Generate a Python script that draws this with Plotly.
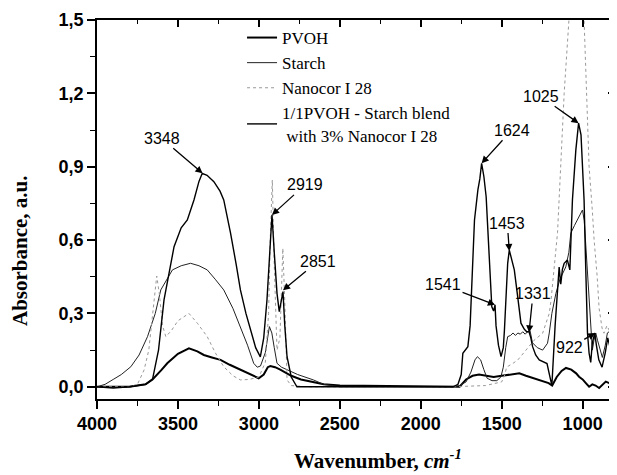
import plotly.graph_objects as go

# ---------------- data ----------------
blend_wn = [4000, 3900, 3800, 3750, 3700, 3657, 3620, 3586, 3550, 3524, 3480, 3442, 3401, 3370, 3350,
            3320, 3278, 3240, 3217, 3195, 3175, 3140, 3114, 3080, 3052, 3020, 2991, 2970, 2950, 2935,
            2919, 2905, 2888, 2874, 2862, 2851, 2840, 2826, 2800, 2765, 2700, 2400, 2000, 1800, 1770,
            1750, 1740, 1709, 1695, 1688, 1668, 1647, 1635, 1624, 1610, 1596, 1575, 1561, 1550, 1541,
            1535, 1520, 1504, 1490, 1483, 1470, 1463, 1453, 1440, 1422, 1401, 1381, 1360, 1345, 1331,
            1320, 1309, 1290, 1268, 1240, 1220, 1205, 1190, 1170, 1155, 1145, 1135, 1125, 1114, 1094,
            1079, 1063, 1042, 1025, 1010, 991, 981, 970, 960, 950, 940, 925, 915, 900, 880, 860, 845,
            830, 815, 800]
blend_ab = [0.0, -0.005, 0.0, 0.005, 0.01, 0.03, 0.15, 0.355, 0.48, 0.573, 0.65, 0.682, 0.764, 0.84, 0.873,
            0.865, 0.839, 0.80, 0.764, 0.70, 0.628, 0.50, 0.396, 0.30, 0.232, 0.16, 0.122, 0.20, 0.355, 0.55,
            0.703, 0.55, 0.382, 0.307, 0.35, 0.389, 0.25, 0.123, 0.04, 0.0, 0.0, 0.0, 0.0, 0.0, 0.01,
            0.05, 0.137, 0.164, 0.25, 0.368, 0.682, 0.805, 0.85, 0.914, 0.86, 0.777, 0.519, 0.327, 0.31, 0.335,
            0.25, 0.17, 0.123, 0.16, 0.232, 0.40, 0.505, 0.559, 0.52, 0.478, 0.368, 0.26, 0.235, 0.225, 0.225,
            0.20, 0.164, 0.13, 0.11, 0.10, 0.095, 0.05, 0.005, 0.25, 0.42, 0.49, 0.42, 0.48, 0.505, 0.518,
            0.478, 0.764, 0.968, 1.078, 1.03, 0.764, 0.49, 0.22, 0.137, 0.10, 0.18, 0.22, 0.17, 0.11, 0.08, 0.14, 0.20,
            0.16, 0.10, 0.06]

starch_wn = [4000, 3950, 3900, 3850, 3791, 3740, 3688, 3640, 3606, 3570, 3534, 3480, 3422, 3370, 3319,
             3270, 3217, 3160, 3114, 3070, 3032, 3010, 2990, 2960, 2935, 2920, 2905, 2888, 2860, 2826,
             2760, 2663, 2600, 2500, 2000, 1800, 1760, 1720, 1690, 1665, 1650, 1630, 1610, 1590, 1560,
             1530, 1505, 1490, 1475, 1463, 1445, 1430, 1415, 1400, 1385, 1370, 1355, 1340, 1325, 1310,
             1280, 1247, 1217, 1206, 1190, 1165, 1140, 1120, 1104, 1085, 1073, 1050, 1032, 1015, 1001,
             990, 980, 970, 960, 950, 940, 930, 919, 908, 898, 878, 860, 847, 826, 806, 800]
starch_ab = [0.0, 0.01, 0.03, 0.05, 0.082, 0.13, 0.205, 0.30, 0.396, 0.44, 0.478, 0.495, 0.505, 0.495, 0.478,
             0.44, 0.396, 0.32, 0.246, 0.17, 0.096, 0.08, 0.085, 0.14, 0.246, 0.22, 0.16, 0.096, 0.08, 0.069,
             0.05, 0.028, 0.01, 0.0, 0.0, 0.0, 0.005, 0.02, 0.06, 0.11, 0.123, 0.11, 0.07, 0.035, 0.025,
             0.025, 0.04, 0.08, 0.16, 0.205, 0.21, 0.22, 0.21, 0.22, 0.215, 0.225, 0.215, 0.225, 0.23, 0.18,
             0.16, 0.15, 0.178, 0.22, 0.30, 0.382, 0.44, 0.47, 0.49, 0.55, 0.628, 0.66, 0.682, 0.70, 0.723,
             0.68, 0.58, 0.49, 0.38, 0.287, 0.15, 0.19, 0.22, 0.19, 0.164, 0.12, 0.17, 0.22, 0.23, 0.15, 0.12]

nano_wn = [4000, 3800, 3750, 3709, 3680, 3650, 3631, 3615, 3595, 3575, 3540, 3500, 3432, 3380, 3319,
           3270, 3217, 3160, 3114, 3060, 3000, 2960, 2940, 2930, 2917, 2905, 2888, 2870, 2860, 2852,
           2840, 2826, 2800, 2700, 2000, 1800, 1600, 1500, 1480, 1470, 1430, 1400, 1350, 1300, 1247,
           1206, 1195, 1155, 1114, 1090, 1060, 1040, 1015, 991, 975, 960, 940, 929, 910, 898, 880,
           868, 850, 835, 820, 806, 800]
nano_ab = [0.0, 0.0, 0.01, 0.069, 0.15, 0.35, 0.453, 0.38, 0.25, 0.205, 0.23, 0.27, 0.30, 0.26, 0.205,
           0.14, 0.082, 0.045, 0.028, 0.03, 0.04, 0.10, 0.30, 0.60, 0.846, 0.50, 0.15, 0.20, 0.40, 0.566,
           0.35, 0.028, 0.005, 0.0, 0.0, 0.0, 0.005, 0.02, 0.05, 0.08, 0.096, 0.11, 0.15, 0.19, 0.219,
           0.30, 0.355, 0.63, 1.2, 1.5, 1.75, 1.82, 1.75, 1.5, 1.2, 0.9, 0.72, 0.6, 0.45, 0.32, 0.24,
           0.219, 0.25, 0.23, 0.18, 0.138, 0.12]

pvoh_wn = [4000, 3800, 3700, 3657, 3600, 3566, 3500, 3432, 3380, 3340, 3290, 3237, 3180, 3114, 3050,
           3001, 2970, 2945, 2929, 2900, 2868, 2800, 2740, 2663, 2600, 2500, 2000, 1800, 1760, 1720,
           1680, 1640, 1600, 1550, 1500, 1471, 1430, 1391, 1350, 1311, 1280, 1249, 1210, 1188, 1160,
           1130, 1103, 1070, 1040, 1022, 1000, 980, 960, 940, 920, 898, 875, 857, 835, 815, 800]
pvoh_ab = [0.0, 0.0, 0.01, 0.03, 0.07, 0.096, 0.135, 0.157, 0.145, 0.13, 0.12, 0.11, 0.09, 0.07, 0.05,
           0.035, 0.05, 0.08, 0.085, 0.08, 0.07, 0.045, 0.03, 0.02, 0.01, 0.005, 0.0, 0.0, 0.0, 0.03,
           0.045, 0.05, 0.045, 0.04, 0.045, 0.048, 0.05, 0.055, 0.045, 0.036, 0.03, 0.021, 0.015, 0.005, 0.04,
           0.065, 0.077, 0.07, 0.055, 0.041, 0.03, 0.015, 0.0, 0.01, 0.005, -0.005, 0.01, 0.021, 0.015, 0.005, 0.0]

names = ["PVOH", "Starch", "Nanocor I 28", "1/1PVOH - Starch blend<br> with 3% Nanocor I 28"]

y_tickvals = [0.0, 0.3, 0.6, 0.9, 1.2, 1.5]
y_ticktext = ["0,0", "0,3", "0,6", "0,9", "1,2", "1,5"]
x_tickvals = [4000, 3500, 3000, 2500, 2000, 1500, 1000]

peak_labels = ["3348", "2919", "2851", "1624", "1541", "1453", "1331", "1025", "922"]
peak_x = [3348, 2919, 2851, 1624, 1541, 1453, 1331, 1025, 922]
peak_y = [0.873, 0.703, 0.395, 0.914, 0.335, 0.555, 0.222, 1.078, 0.22]
label_dx = [-41, 33, 35, 30, -52, -2, 4, -38, -26]
label_dy = [-35, -30, -29, -33, -20, -28, -39, -27, 15]

X_RANGE = [4000, 800]
Y_RANGE = [-0.05, 1.5]

# ---------------- figure ----------------
fig = go.Figure()
fig.add_trace(go.Scatter(x=pvoh_wn, y=pvoh_ab, mode="lines", name=names[0],
                         line=dict(color="black", width=2.0)))
fig.add_trace(go.Scatter(x=starch_wn, y=starch_ab, mode="lines", name=names[1],
                         line=dict(color="#222222", width=1.0)))
fig.add_trace(go.Scatter(x=nano_wn, y=nano_ab, mode="lines", name=names[2],
                         line=dict(color="#999999", width=1.0, dash="dot")))
fig.add_trace(go.Scatter(x=blend_wn, y=blend_ab, mode="lines", name=names[3],
                         line=dict(color="black", width=1.4)))
# helper trace for the mirrored (inner-tick) axes
fig.add_trace(go.Scatter(x=[], y=[], xaxis="x2", yaxis="y2", showlegend=False, hoverinfo="skip"))

axis_common = dict(showgrid=False, zeroline=False, showline=True, linecolor="black", linewidth=1.5)

fig.update_layout(
    width=609, height=467,
    margin=dict(l=89, r=2, t=12, b=76),
    plot_bgcolor="white", paper_bgcolor="white",
    xaxis=dict(range=X_RANGE, tickvals=x_tickvals, ticks="outside", ticklen=8, tickwidth=1.5,
               tickcolor="black",
               minor=dict(dtick=250, ticks="outside", ticklen=5, tickwidth=1.2, tickcolor="black"),
               tickfont=dict(family="Liberation Sans", size=18, color="black", weight="bold"),
               **axis_common),
    yaxis=dict(range=Y_RANGE, tickvals=y_tickvals, ticktext=y_ticktext, ticks="outside", ticklen=8,
               tickwidth=1.5, tickcolor="black",
               minor=dict(dtick=0.15, tick0=0, ticks="outside", ticklen=5, tickwidth=1.2, tickcolor="black"),
               tickfont=dict(family="Liberation Sans", size=18, color="black", weight="bold"),
               **axis_common),
    xaxis2=dict(range=X_RANGE, overlaying="x", side="top", tickvals=x_tickvals, ticks="inside",
                ticklen=7, tickwidth=1.5, tickcolor="black", showticklabels=False,
                minor=dict(dtick=250, ticks="inside", ticklen=4, tickwidth=1.2, tickcolor="black"),
                **axis_common),
    yaxis2=dict(range=Y_RANGE, overlaying="y", side="right", tickvals=y_tickvals, ticks="inside",
                ticklen=7, tickwidth=1.5, tickcolor="black", showticklabels=False,
                minor=dict(dtick=0.15, tick0=0, ticks="inside", ticklen=4, tickwidth=1.2, tickcolor="black"),
                **axis_common),
    legend=dict(x=0.28, y=1.0, xanchor="left", yanchor="top", bgcolor="rgba(0,0,0,0)",
                font=dict(family="Liberation Serif", size=17, color="black"),
                tracegroupgap=0),
    showlegend=True,
)

# peak labels with arrows
for txt, px, py, dx, dy in zip(peak_labels, peak_x, peak_y, label_dx, label_dy):
    fig.add_annotation(x=px, y=py, xref="x", yref="y", text=txt, showarrow=True,
                       ax=dx, ay=dy, arrowhead=2, arrowsize=1.1, arrowwidth=1.3, arrowcolor="black",
                       standoff=0, font=dict(family="Liberation Sans", size=16, color="black"))

# axis titles
fig.add_annotation(text="<b>Absorbance, a.u.</b>", xref="paper", yref="paper", x=-0.1486, y=0.3905,
                   xanchor="center", yanchor="middle", textangle=-90, showarrow=False,
                   font=dict(family="Liberation Serif", size=21, color="black"))
fig.add_annotation(text="<b>Wavenumber, <i>cm</i></b><sup><b><i>-1</i></b></sup>", xref="paper",
                   yref="paper", x=0.5425, y=-0.2, showarrow=False, xanchor="center", yanchor="bottom",
                   font=dict(family="Liberation Serif", size=21, color="black"))

fig.write_html("out.html")
